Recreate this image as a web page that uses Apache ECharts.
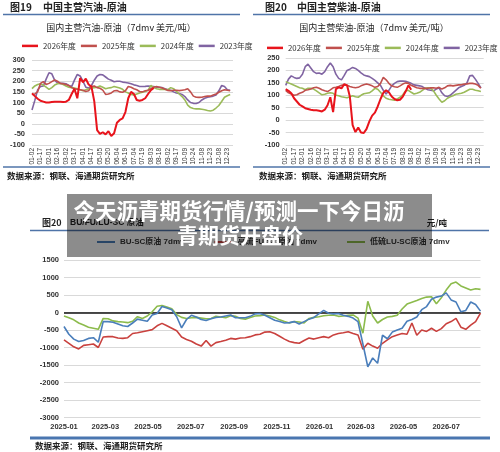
<!DOCTYPE html>
<html><head><meta charset="utf-8">
<script src="https://cdn.jsdelivr.net/npm/echarts@6/dist/echarts.min.js"></script>
<style>html,body{margin:0;padding:0;background:#fff}#c{width:500px;height:452px}</style>
</head><body><div id="c"></div>
<script>
// ---------- top charts: category ticks (trading-day labels) ----------
const topTicks = ['01-02','01-17','02-01','02-16','03-02','03-17','04-01','04-17','05-05','05-20','06-04','06-19','07-04','07-19','08-03','08-18','09-02','09-17','10-09','10-24','11-08','11-23','12-08','12-23'];
const seasonNames = ['2026年度','2025年度','2024年度','2023年度'];

// 图19 gasoline - crude (USD/t, 7dmv)
const gas2026 = [143,130,118,108,104,100,100,102,104,104,104,102,104,112,140,165,120,215,195,212,185,175,105,-30,-48,-40,-50,-35,-58,-45,5,18,25,55,120,150,140,112,108,112,120,140,158,168];
const gas2025 = [138,140,151,190,198,185,190,198,206,200,190,188,185,180,170,165,162,160,158,152,155,175,178,170,167,158,138,140,145,155,156,150,148,155,175,172,165,160,152,150,155,158,165,172,175,172,168,162,157,155,158,158,156,158,160,165,150,130,125,124,125,128,130,130,135,140,148,155,160,158,155];
const gas2024 = [165,178,185,188,182,172,162,170,182,188,190,185,178,172,170,168,165,160,155,160,165,168,170,172,178,172,165,168,170,175,172,168,162,150,145,138,135,140,145,148,152,158,180,170,165,162,162,162,160,170,165,152,140,128,112,88,76,72,70,70,68,66,62,60,64,74,86,105,125,132,138];
const gas2023 = [65,110,160,175,178,210,240,235,205,192,190,190,188,180,175,205,232,225,200,172,168,180,205,225,232,230,220,210,205,198,200,200,196,194,192,188,183,180,175,175,176,178,176,175,172,172,170,165,160,158,150,145,142,138,128,112,100,96,95,100,112,120,125,127,130,135,155,180,175,160,158];

// 图20 diesel - crude (USD/t, 7dmv)
const dsl2026 = [125,118,108,88,75,62,55,48,45,42,40,40,38,35,42,60,92,32,125,132,128,145,140,95,-20,-48,-30,-50,-52,-35,-5,18,30,55,85,110,120,112,95,85,80,82,95,115,140,122];
const dsl2025 = [120,110,105,100,102,108,112,120,122,125,130,132,128,122,118,115,122,130,132,135,140,142,140,135,132,130,132,138,142,145,142,138,132,135,148,172,162,148,138,134,132,138,145,150,148,140,135,130,128,128,128,128,130,130,128,132,125,130,138,140,138,140,142,142,145,146,148,148,145,140,128];
const dsl2024 = [155,150,145,140,135,130,128,122,128,128,125,118,110,102,104,108,110,108,100,98,94,92,90,94,98,94,92,100,106,108,110,118,128,124,112,98,88,84,82,80,85,92,102,118,120,112,105,108,112,120,128,130,128,118,100,85,72,78,88,94,98,104,106,108,112,118,124,124,120,118,115];
const dsl2023 = [140,165,178,172,168,170,185,215,225,210,195,188,190,185,195,215,230,215,185,168,162,180,200,205,212,208,200,190,182,178,175,168,160,150,140,120,105,120,138,148,155,157,157,156,152,148,142,140,138,135,128,122,120,118,125,130,110,98,95,100,110,120,130,135,140,150,178,180,165,148,130];

// ---------- bottom chart: weekly samples from 2025-01-01 (yuan/t) ----------
const bottomStart = '2025-01-01';
const bottomStepDays = 7;
const bottomEnd = '2026-08-19';
const bottomTicks = ['2025-01','2025-03','2025-05','2025-07','2025-09','2025-11','2026-01','2026-03','2026-05','2026-07'];
const buNames = ['BU-SC原油 7dmv','高硫FU-SC原油 7dmv','低硫LU-SC原油 7dmv'];
const buSC = [-400,-620,-760,-830,-800,-740,-720,-850,-260,-260,-280,-330,-380,-400,-300,-190,-220,-250,-70,-30,170,130,80,-120,-440,-200,-80,-130,-200,-230,-180,-140,-130,-100,-70,-150,-150,-150,-110,-40,-30,-80,-150,-220,-260,-300,-290,-260,-330,-260,-190,-140,-40,60,-20,-40,-30,-80,-110,-160,-260,-900,-1550,-1300,-1450,-650,-750,-560,-500,-450,-250,-200,-130,80,170,380,440,470,560,360,300,20,60,300,230,40];
const fuSC = [-780,-880,-980,-1040,-940,-920,-900,-1000,-700,-690,-690,-730,-740,-720,-600,-580,-550,-520,-490,-380,-310,-380,-450,-520,-700,-770,-820,-900,-960,-800,-960,-860,-830,-790,-740,-760,-730,-720,-690,-640,-620,-560,-550,-600,-680,-760,-830,-860,-880,-800,-730,-760,-720,-690,-720,-640,-600,-580,-550,-600,-640,-1050,-880,-960,-1020,-880,-780,-690,-640,-600,-620,-300,-650,-500,-540,-450,-540,-460,-320,-260,-170,-420,-480,-360,-260,-20];
const luSC = [-100,-150,-210,-300,-360,-420,-450,-480,-170,-180,-240,-260,-270,-290,-250,-120,-170,-100,20,180,200,160,110,-60,-140,-170,-150,-140,-160,-180,-170,-110,-130,-150,-90,-110,-170,-190,-140,-100,-90,-70,-100,-140,-210,-260,-300,-260,-270,-300,-170,-140,-120,-95,-80,-70,-110,-100,-80,-70,-160,-590,320,-100,-300,-200,-130,-110,-80,100,240,290,340,400,440,450,250,420,640,820,870,760,700,640,680,660];

// ---------- helpers ----------
const CJK = '"Noto Sans CJK SC", sans-serif';
const LAT = '"Liberation Sans", Arial, "Noto Sans CJK SC", sans-serif';
const DAY = 86400000;
function utc(s){ const p = s.split('-').map(Number); return Date.UTC(p[0], p[1]-1, p[2] || 1); }
const topCats = [];
topTicks.forEach(t => topCats.push(t, t + ' ', t + '  '));
const t0 = utc(bottomStart);
const dayOf = s => Math.round((utc(s) - t0) / DAY);
const weekly = arr => arr.map((v, k) => [k * bottomStepDays, v]);
const tickDays = bottomTicks.map(dayOf);
const tickMap = {}; tickDays.forEach((d, i) => tickMap[d] = bottomTicks[i]);

const seasonColors = ['#e8141c','#c0504d','#9bbb59','#8064a2'];
const buColors = ['#4a7ebb','#c9413e','#8cbb4c'];

function topSeries(idx, arrs){
  const order = [3,2,1,0];
  return order.map(i => ({
    type:'line', name: seasonNames[i], xAxisIndex: idx, yAxisIndex: idx,
    data: arrs[i], showSymbol:false, connectNulls:false, animation:false,
    lineStyle:{ width: i===0 ? 2 : 1.6, color: seasonColors[i] },
    itemStyle:{ color: seasonColors[i] }, z: 5 + (3 - i)
  }));
}
function txt(x, y, text, size, o){
  o = o || {};
  const st = { text, fill: o.fill || '#222',
    font: (o.weight || 'normal') + ' ' + size + 'px ' + (o.family || CJK),
    align: o.align || 'left', verticalAlign:'middle' };
  if (o.shadow) { st.shadowColor = 'rgba(0,0,0,0.7)'; st.shadowBlur = 3; }
  return { type:'text', x, y, z: o.z || 10, style: st };
}
function hline(x1, x2, y, w, c){
  return { type:'line', z: 9, shape:{ x1, y1:y, x2, y2:y }, style:{ stroke: c || '#4f74a8', lineWidth: w } };
}

const yLabel = { fontSize: 7.5, fontWeight:'bold', color:'#333', fontFamily: LAT, formatter: v => String(v) };
const split = { show:true, lineStyle:{ color:'#d9d9d9', width:1 } };
const topX = gi => ({ type:'category', gridIndex: gi, data: topCats, boundaryGap:false,
  axisLine:{show:false}, axisTick:{show:false}, splitLine:{show:false},
  axisLabel:{ interval:2, rotate:90, fontSize:6.5, margin:3, color:'#333', fontFamily: LAT,
    formatter: v => v.trim() } });

const option = {
  backgroundColor:'#fff',
  animation:false,
  grid:[
    { left:32, top:60, width:201, height:85 },
    { left:285.7, top:58, width:198, height:87 },
    { left:64, top:260, width:416.5, height:157.5 }
  ],
  legend:[
    { left:22, top:42, data: seasonNames, icon:'rect', itemWidth:16, itemHeight:2.5, itemGap:5,
      padding:0, textStyle:{ fontSize:7.8, color:'#333', fontFamily: CJK } },
    { left:267, top:44, data: seasonNames, icon:'rect', itemWidth:16, itemHeight:2.5, itemGap:5,
      padding:0, textStyle:{ fontSize:7.8, color:'#333', fontFamily: CJK } },
    { left:97, top:238, data: buNames, icon:'rect', itemWidth:18, itemHeight:2, itemGap:30,
      padding:0, textStyle:{ fontSize:8, fontWeight:'bold', color:'#333', fontFamily: LAT } }
  ],
  xAxis:[
    topX(0), topX(1),
    { type:'value', gridIndex:2, min: 0, max: dayOf(bottomEnd),
      axisLine:{show:false}, axisTick:{show:false}, splitLine:{show:false},
      axisLabel:{ customValues: tickDays, fontSize:7.5, fontWeight:'bold', color:'#333', margin:6,
        fontFamily: LAT, formatter: v => tickMap[Math.round(v)] || '' } }
  ],
  yAxis:[
    { type:'value', gridIndex:0, min:-100, max:300, interval:50, axisLabel: Object.assign({margin:7}, yLabel),
      splitLine: split, axisLine:{show:false}, axisTick:{show:false} },
    { type:'value', gridIndex:1, min:-100, max:250, interval:50, axisLabel: Object.assign({margin:6}, yLabel),
      splitLine: split, axisLine:{show:false}, axisTick:{show:false} },
    { type:'value', gridIndex:2, min:-3000, max:1500, interval:500, axisLabel: Object.assign({margin:5}, yLabel),
      splitLine: split, axisLine:{show:false}, axisTick:{show:false} }
  ],
  series: [].concat(
    topSeries(0, [gas2026, gas2025, gas2024, gas2023]),
    topSeries(1, [dsl2026, dsl2025, dsl2024, dsl2023]),
    [
      { type:'line', name: buNames[2], xAxisIndex:2, yAxisIndex:2, data: weekly(luSC), showSymbol:false,
        lineStyle:{ width:1.6, color: buColors[2] }, itemStyle:{ color: buColors[2] }, z:5 },
      { type:'line', name: buNames[1], xAxisIndex:2, yAxisIndex:2, data: weekly(fuSC), showSymbol:false,
        lineStyle:{ width:1.6, color: buColors[1] }, itemStyle:{ color: buColors[1] }, z:5 },
      { type:'line', name: buNames[0], xAxisIndex:2, yAxisIndex:2, data: weekly(buSC), showSymbol:false,
        lineStyle:{ width:1.6, color: buColors[0] }, itemStyle:{ color: buColors[0] }, z:6,
        markLine:{ silent:true, symbol:'none', label:{show:false}, animation:false,
          lineStyle:{ color:'#111', width:1.5, type:'solid' }, data:[{ yAxis:0 }] } }
    ]
  ),
  graphic:[
    txt(10, 7.5, '图19', 10, {weight:'bold'}),
    txt(43, 7.5, '中国主营汽油-原油', 10, {weight:'bold'}),
    hline(3, 240, 14.5, 1.6),
    txt(121, 27.5, '国内主营汽油-原油（7dmv 美元/吨）', 9, {align:'center', fill:'#222'}),
    hline(3, 240, 167, 1.6),
    txt(7, 176, '数据来源：钢联、海通期货研究所', 8.5, {weight:'bold'}),
    txt(265, 7.5, '图20', 10, {weight:'bold'}),
    txt(297, 7.5, '中国主营柴油-原油', 10, {weight:'bold'}),
    hline(253, 490, 14.5, 1.6),
    txt(374, 28, '国内主营柴油-原油（7dmv 美元/吨）', 9, {align:'center', fill:'#222'}),
    hline(253, 490, 167, 1.6),
    txt(259, 176, '数据来源：钢联、海通期货研究所', 8.5, {weight:'bold'}),
    txt(42, 223, '图20', 9, {weight:'bold'}),
    txt(70, 223, 'BU/FU/LU-SC 原油', 8.5, {weight:'bold', family: LAT}),
    txt(447, 223, '元/吨', 8.5, {align:'right', weight:'bold'}),
    hline(30, 489, 230.5, 1.4),
    hline(30, 490, 438, 3, '#4a76b0'),
    txt(35, 445.5, '数据来源：钢联、海通期货研究所', 8.5, {weight:'bold'}),
    { type:'rect', z:100, shape:{ x:67, y:194, width:365, height:63 }, style:{ fill:'rgba(0,0,0,0.45)' } },
    txt(239, 211, '今天沥青期货行情/预测一下今日沥', 21.5, {weight:'bold', fill:'#fff', align:'center', z:101, shadow:true}),
    txt(240, 235, '青期货开盘价', 21, {weight:'bold', fill:'#fff', align:'center', z:101, shadow:true})
  ]
};
const chart = echarts.init(document.getElementById('c'), null, { renderer:'canvas' });
chart.setOption(option);
</script></body></html>
